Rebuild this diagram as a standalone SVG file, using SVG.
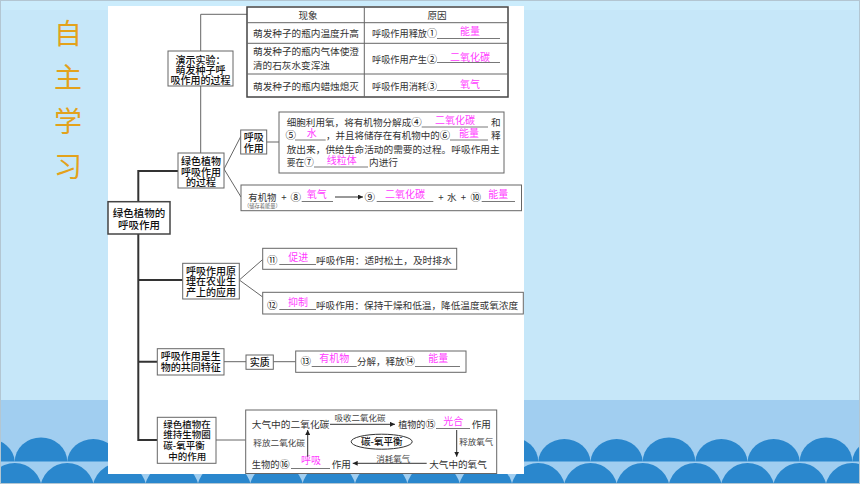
<svg xmlns="http://www.w3.org/2000/svg" width="860" height="484" viewBox="0 0 860 484">
<defs>
<marker id="ah" viewBox="0 0 10 10" refX="10" refY="5" markerWidth="5" markerHeight="5" markerUnits="userSpaceOnUse" orient="auto"><path d="M0,0 L10,5 L0,10 Z" fill="#222"/></marker>
<style>
.t{font-family:"Noto Sans CJK SC","Noto Sans CJK JP",sans-serif;font-size:9.6px;fill:#333}
.n{font-family:"Noto Sans CJK SC","Noto Sans CJK JP",sans-serif;font-size:10px;fill:#111;font-weight:500}
.s{font-family:"Noto Sans CJK SC","Noto Sans CJK JP",sans-serif;font-size:8.5px;fill:#444}
.a{font-family:"Noto Sans CJK SC","Noto Sans CJK JP",sans-serif;font-size:10px;fill:#ff3cff}
.c{font-size:10.5px;fill:#111}
.m{text-anchor:middle}
.box{fill:#fff;stroke:#666;stroke-width:1}
.ln{fill:none;stroke:#666;stroke-width:1}
.tr{fill:none;stroke:#333;stroke-width:2}
.ul{stroke:#555;stroke-width:0.8}
.ar{fill:none;stroke:#333;stroke-width:1}
.sc{fill:#2a87cd}
</style>
</defs>
<g id="background">
<rect x="0" y="0" width="860" height="484" fill="#c6e7f9"/>
<rect x="0" y="0" width="860" height="10" fill="#cbecfc"/>
<rect x="0" y="400" width="860" height="84" fill="#a1cef0"/>
<g class="sc">
<path d="M-37.5,461.5 A26.2,24 0 0 1 14.8,461.5 Z"/>
<path d="M14.8,461.5 A26.2,24 0 0 1 67.2,461.5 Z"/>
<path d="M67.2,461.5 A26.2,24 0 0 1 119.5,461.5 Z"/>
<path d="M119.5,461.5 A26.2,24 0 0 1 171.8,461.5 Z"/>
<path d="M171.8,461.5 A26.2,24 0 0 1 224.2,461.5 Z"/>
<path d="M224.2,461.5 A26.2,24 0 0 1 276.5,461.5 Z"/>
<path d="M276.5,461.5 A26.2,24 0 0 1 328.8,461.5 Z"/>
<path d="M328.8,461.5 A26.2,24 0 0 1 381.2,461.5 Z"/>
<path d="M381.2,461.5 A26.2,24 0 0 1 433.5,461.5 Z"/>
<path d="M433.5,461.5 A26.2,24 0 0 1 485.8,461.5 Z"/>
<path d="M485.8,461.5 A26.2,24 0 0 1 538.2,461.5 Z"/>
<path d="M538.2,461.5 A26.2,24 0 0 1 590.5,461.5 Z"/>
<path d="M590.5,461.5 A26.2,24 0 0 1 642.8,461.5 Z"/>
<path d="M642.8,461.5 A26.2,24 0 0 1 695.2,461.5 Z"/>
<path d="M695.2,461.5 A26.2,24 0 0 1 747.5,461.5 Z"/>
<path d="M747.5,461.5 A26.2,24 0 0 1 799.8,461.5 Z"/>
<path d="M799.8,461.5 A26.2,24 0 0 1 852.2,461.5 Z"/>
<path d="M852.2,461.5 A26.2,24 0 0 1 904.5,461.5 Z"/>
<circle cx="14.8" cy="490" r="27"/>
<circle cx="67.2" cy="490" r="27"/>
<circle cx="119.5" cy="490" r="27"/>
<circle cx="171.8" cy="490" r="27"/>
<circle cx="224.2" cy="490" r="27"/>
<circle cx="276.5" cy="490" r="27"/>
<circle cx="328.8" cy="490" r="27"/>
<circle cx="381.2" cy="490" r="27"/>
<circle cx="433.5" cy="490" r="27"/>
<circle cx="485.8" cy="490" r="27"/>
<circle cx="538.2" cy="490" r="27"/>
<circle cx="590.5" cy="490" r="27"/>
<circle cx="642.8" cy="490" r="27"/>
<circle cx="695.2" cy="490" r="27"/>
<circle cx="747.5" cy="490" r="27"/>
<circle cx="799.8" cy="490" r="27"/>
<circle cx="852.2" cy="490" r="27"/>
</g>
<rect x="0.5" y="0.5" width="859" height="483" fill="none" stroke="#b3c6d2" stroke-width="1"/>
</g>
<g id="title" font-family="'Noto Sans CJK SC','Noto Sans CJK JP',sans-serif" font-size="28" fill="#e3a21b" text-anchor="middle">
<text x="68" y="44">自</text>
<text x="68" y="88">主</text>
<text x="68" y="132">学</text>
<text x="68" y="177">习</text>
</g>
<rect id="panel" x="108" y="6" width="416" height="468" fill="#fff"/>
<g id="connectors">
<path class="ln" d="M247,14.3 H200.7 V51 M200.7,86 V153"/>
<path class="tr" d="M178,171 H138.3 V201.7 M138.3,234 V440 H157.3 M138.3,280 H182.7 M138.3,361.7 H157.3"/>
<path class="ln" d="M224,169 L241,136 M224,169 L241,197 M266.7,142 H279"/>
<path class="ln" d="M239.3,280 L262.7,259.5 M239.3,280 L262.7,297"/>
<path class="ln" d="M224,361.7 H246 M273.3,361.7 H295.7"/>
<path class="ln" d="M216,440 H245.7"/>
</g>
<g id="table">
<rect x="247" y="7" width="261" height="90" fill="#fff" stroke="#444" stroke-width="1.5"/>
<path class="ln" d="M247,22.7 H508 M247,43.3 H508 M247,74 H508 M364.3,7 V97"/>
<text class="t m" x="308" y="18.7">现象</text>
<text class="t m" x="437" y="18.7">原因</text>
<text class="t" x="253" y="36.7" textLength="106" lengthAdjust="spacingAndGlyphs">萌发种子的瓶内温度升高</text>
<text class="t" x="372" y="36.7" textLength="65" lengthAdjust="spacingAndGlyphs">呼吸作用释放<tspan class="c">①</tspan></text>
<line class="ul" x1="437" y1="38.5" x2="500" y2="38.5"/>
<text class="a m" x="470" y="34.5">能量</text>
<text class="t" x="253" y="55.3" textLength="106" lengthAdjust="spacingAndGlyphs">萌发种子的瓶内气体使澄</text>
<text class="t" x="253" y="68.7" textLength="77" lengthAdjust="spacingAndGlyphs">清的石灰水变浑浊</text>
<text class="t" x="372" y="63" textLength="65" lengthAdjust="spacingAndGlyphs">呼吸作用产生<tspan class="c">②</tspan></text>
<line class="ul" x1="437" y1="62.5" x2="500" y2="62.5"/>
<text class="a m" x="470" y="60.5">二氧化碳</text>
<text class="t" x="253" y="89.7" textLength="106" lengthAdjust="spacingAndGlyphs">萌发种子的瓶内蜡烛熄灭</text>
<text class="t" x="372" y="89.7" textLength="65" lengthAdjust="spacingAndGlyphs">呼吸作用消耗<tspan class="c">③</tspan></text>
<line class="ul" x1="437" y1="90.5" x2="500" y2="90.5"/>
<text class="a m" x="470" y="87.5">氧气</text>
</g>
<g id="node-demo">
<rect class="box" x="168" y="51" width="65" height="35"/>
<text class="n m" x="200.5" y="63.8">演示实验：</text>
<text class="n m" x="200.5" y="73.8">萌发种子呼</text>
<text class="n m" x="200.5" y="83.8">吸作用的过程</text>
</g>
<g id="node-process">
<rect class="box" x="178" y="153" width="46" height="35"/>
<text class="n m" x="201" y="165">绿色植物</text>
<text class="n m" x="201" y="175.8">呼吸作用</text>
<text class="n m" x="201" y="185.5">的过程</text>
</g>
<g id="node-main">
<rect x="108" y="201.7" width="62" height="32.3" fill="#fff" stroke="#444" stroke-width="1.5"/>
<text class="n m" x="139" y="217.3" style="font-size:10.5px">绿色植物的</text>
<text class="n m" x="139" y="228.5" style="font-size:10.5px">呼吸作用</text>
</g>
<g id="node-resp">
<rect class="box" x="240.7" y="130" width="26" height="24"/>
<text class="n m" x="253.7" y="141">呼吸</text>
<text class="n m" x="253.7" y="152">作用</text>
</g>
<g id="node-def">
<rect class="box" x="279" y="112" width="225" height="61"/>
<text class="t" x="286.7" y="126.3" textLength="135" lengthAdjust="spacingAndGlyphs">细胞利用氧，将有机物分解成<tspan class="c">④</tspan></text>
<line class="ul" x1="421.7" y1="127" x2="488" y2="127"/>
<text class="a m" x="455" y="123.5">二氧化碳</text>
<text class="t" x="491" y="126.3">和</text>
<text class="t" x="285.5" y="139.4"><tspan class="c">⑤</tspan></text>
<line class="ul" x1="295" y1="140" x2="325.7" y2="140"/>
<text class="a m" x="311.7" y="137">水</text>
<text class="t" x="326" y="139.4" textLength="124" lengthAdjust="spacingAndGlyphs">，并且将储存在有机物中的<tspan class="c">⑥</tspan></text>
<line class="ul" x1="450" y1="140" x2="488" y2="140"/>
<text class="a m" x="469" y="137">能量</text>
<text class="t" x="491" y="139.4">释</text>
<text class="t" x="286.7" y="153" textLength="213" lengthAdjust="spacingAndGlyphs">放出来，供给生命活动的需要的过程。呼吸作用主</text>
<text class="t" x="286.7" y="166.4" textLength="27" lengthAdjust="spacingAndGlyphs">要在<tspan class="c">⑦</tspan></text>
<line class="ul" x1="314" y1="167" x2="368" y2="167"/>
<text class="a m" x="341.7" y="164">线粒体</text>
<text class="t" x="369" y="166.4" textLength="29" lengthAdjust="spacingAndGlyphs">内进行</text>
</g>
<g id="node-equation">
<rect class="box" x="241" y="185" width="280.5" height="25.7"/>
<text class="t" x="248.3" y="201" textLength="28" lengthAdjust="spacingAndGlyphs">有机物</text>
<text class="t m" x="284" y="201">+</text>
<text class="t" x="290.5" y="201.4"><tspan class="c">⑧</tspan></text>
<line class="ul" x1="301.7" y1="201.5" x2="333" y2="201.5"/>
<text class="a m" x="316.7" y="198">氧气</text>
<line class="ar" x1="335" y1="197" x2="363" y2="197" marker-end="url(#ah)"/>
<text class="t" x="364.5" y="201.4"><tspan class="c">⑨</tspan></text>
<line class="ul" x1="376.7" y1="201.5" x2="433.3" y2="201.5"/>
<text class="a m" x="405" y="198">二氧化碳</text>
<text class="t m" x="441" y="201">+</text>
<text class="t m" x="451.7" y="201">水</text>
<text class="t m" x="463.3" y="201">+</text>
<text class="t" x="470.5" y="201.4"><tspan class="c">⑩</tspan></text>
<line class="ul" x1="481.7" y1="201.5" x2="515" y2="201.5"/>
<text class="a m" x="498.3" y="198">能量</text>
<text class="t" transform="translate(244,208) scale(0.55)" style="fill:#666">（储存着能量）</text>
</g>
<g id="node-agri">
<rect class="box" x="182.7" y="263.3" width="56.6" height="35.7"/>
<text class="n m" x="211" y="274.5">呼吸作用原</text>
<text class="n m" x="211" y="285">理在农业生</text>
<text class="n m" x="211" y="295.5">产上的应用</text>
</g>
<g id="node-11">
<rect class="box" x="262.7" y="248.3" width="194" height="21"/>
<text class="t" x="267" y="263.7"><tspan class="c">⑪</tspan></text>
<line class="ul" x1="279.3" y1="264.5" x2="316" y2="264.5"/>
<text class="a m" x="298.3" y="261">促进</text>
<text class="t" x="316" y="263.7" textLength="135.7" lengthAdjust="spacingAndGlyphs">呼吸作用：适时松土，及时排水</text>
</g>
<g id="node-12">
<rect class="box" x="262.7" y="292.3" width="260.6" height="21.7" stroke="#444"/>
<text class="t" x="267" y="308.7"><tspan class="c">⑫</tspan></text>
<line class="ul" x1="279.3" y1="309.5" x2="316" y2="309.5"/>
<text class="a m" x="298" y="306">抑制</text>
<text class="t" x="316" y="308.7" textLength="202" lengthAdjust="spacingAndGlyphs">呼吸作用：保持干燥和低温，降低温度或氧浓度</text>
</g>
<g id="node-common">
<rect class="box" x="157.3" y="348.7" width="66.7" height="26.3"/>
<text class="n m" x="190.7" y="359.7">呼吸作用是生</text>
<text class="n m" x="190.7" y="371">物的共同特征</text>
</g>
<g id="node-essence">
<rect class="box" x="246" y="355" width="27.3" height="14.3"/>
<text class="n m" x="259.7" y="365.8">实质</text>
</g>
<g id="node-13">
<rect class="box" x="295.7" y="351" width="170.3" height="21.3"/>
<text class="t" x="300.5" y="365.4"><tspan class="c">⑬</tspan></text>
<line class="ul" x1="311.7" y1="366.5" x2="356.7" y2="366.5"/>
<text class="a m" x="334.2" y="362">有机物</text>
<text class="t" x="357" y="365.4" textLength="58" lengthAdjust="spacingAndGlyphs">分解，释放<tspan class="c">⑭</tspan></text>
<line class="ul" x1="415" y1="366.5" x2="460" y2="366.5"/>
<text class="a m" x="438.3" y="362">能量</text>
</g>
<g id="node-balance">
<rect class="box" x="157.3" y="417.3" width="58.7" height="46"/>
<text class="n" x="163.3" y="428" style="font-size:9.5px">绿色植物在</text>
<text class="n" x="163.3" y="438.3" style="font-size:9.5px">维持生物圈</text>
<text class="n" x="163.3" y="448.5" style="font-size:9.5px">碳-氧平衡</text>
<text class="n" x="168.3" y="459.5" style="font-size:9.5px">中的作用</text>
</g>
<g id="node-cycle">
<rect class="box" x="245.7" y="410" width="251" height="63.5"/>
<text class="t" x="251.7" y="427.8" textLength="77.6" lengthAdjust="spacingAndGlyphs">大气中的二氧化碳</text>
<line class="ar" x1="330" y1="424.3" x2="395" y2="424.3" marker-end="url(#ah)"/>
<text class="s m" x="360" y="421.3">吸收二氧化碳</text>
<text class="t" x="398.3" y="427.8" textLength="37" lengthAdjust="spacingAndGlyphs">植物的<tspan class="c">⑮</tspan></text>
<line class="ul" x1="436" y1="428.5" x2="470" y2="428.5"/>
<text class="a m" x="453.3" y="424.5">光合</text>
<text class="t" x="471.7" y="427.8">作用</text>
<line class="ar" x1="456.7" y1="430" x2="456.7" y2="456.7" marker-end="url(#ah)"/>
<text class="s" x="459.3" y="445.3">释放氧气</text>
<text class="t" x="429.3" y="467.8" textLength="57.4" lengthAdjust="spacingAndGlyphs">大气中的氧气</text>
<line class="ar" x1="426.7" y1="463.3" x2="352.7" y2="463.3" marker-end="url(#ah)"/>
<text class="s m" x="393.3" y="461.5">消耗氧气</text>
<text class="t" x="251.7" y="467.8" textLength="38" lengthAdjust="spacingAndGlyphs">生物的<tspan class="c">⑯</tspan></text>
<line class="ul" x1="291" y1="468.5" x2="330" y2="468.5"/>
<text class="a m" x="311" y="464">呼吸</text>
<text class="t" x="331.7" y="467.8">作用</text>
<line class="ar" x1="307.7" y1="456.7" x2="307.7" y2="430" marker-end="url(#ah)"/>
<text class="s" x="253.3" y="446.3" textLength="51.7" lengthAdjust="spacingAndGlyphs">释放二氧化碳</text>
<ellipse cx="381.7" cy="441.7" rx="30.5" ry="7.5" fill="#fff" stroke="#333" stroke-width="1"/>
<text class="n m" x="381.7" y="445.2" style="font-size:9.5px">碳-氧平衡</text>
</g>
</svg>
